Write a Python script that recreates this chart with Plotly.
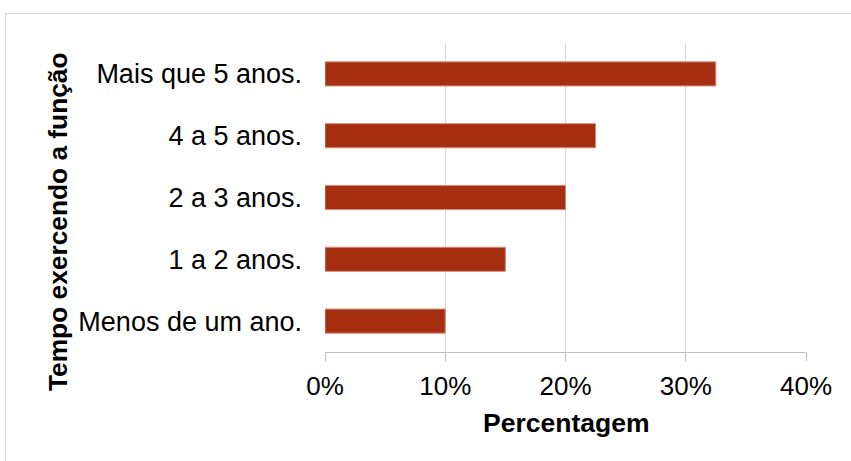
import plotly.graph_objects as go

categories = ["Menos de um ano.", "1 a 2 anos.", "2 a 3 anos.", "4 a 5 anos.", "Mais que 5 anos."]
values = [0.10, 0.15, 0.20, 0.225, 0.325]
x_ticks = [0, 0.1, 0.2, 0.3, 0.4]
x_ticklabels = ["0%", "10%", "20%", "30%", "40%"]

FONT = "Liberation Sans, Arial, sans-serif"

fig = go.Figure(go.Bar(
    y=categories, x=values, orientation="h",
    marker=dict(color="#A52F10", line=dict(color="#D98A78", width=1)),
))

fig.update_layout(
    width=851, height=461,
    margin=dict(l=325, r=45, t=43, b=109),
    paper_bgcolor="white", plot_bgcolor="white",
    bargap=0.61,
    showlegend=False,
    font=dict(family=FONT, size=27, color="#000000"),
    xaxis=dict(
        range=[0, 0.4], tickvals=x_ticks, ticktext=x_ticklabels,
        showgrid=True, gridcolor="#D9D9D9", gridwidth=1,
        showline=True, linecolor="#BFBFBF", linewidth=1,
        ticks="outside", ticklen=8, tickcolor="#BFBFBF",
        ticklabelstandoff=3,
        zeroline=False,
        tickfont=dict(size=26, family=FONT, color="#000000"),
    ),
    yaxis=dict(
        showgrid=False, showline=False, zeroline=False,
        ticks="", ticklabelstandoff=22,
        tickfont=dict(size=27, family=FONT, color="#000000"),
    ),
    annotations=[
        dict(text="<b>Percentagem</b>", xref="paper", yref="paper",
             x=0.5, y=(352 - 423) / 309, xanchor="center", yanchor="middle",
             showarrow=False, font=dict(size=26.5, family=FONT, color="#000000")),
        dict(text="<b>Tempo exercendo a função</b>", xref="paper", yref="paper",
             x=(58 - 325) / 481, y=(352 - 222) / 309, xanchor="center", yanchor="middle",
             textangle=-90, showarrow=False,
             font=dict(size=26.3, family=FONT, color="#000000")),
    ],
    shapes=[
        dict(type="rect", xref="paper", yref="paper",
             x0=(5.5 - 325) / 481, x1=2, y0=-2, y1=(352 - 13.5) / 309,
             line=dict(color="#D9D9D9", width=1), fillcolor="rgba(0,0,0,0)", layer="below"),
    ],
)

fig.write_html("out.html", config={"displayModeBar": False},
               post_script="document.body.style.margin='0';document.body.style.padding='0';")
